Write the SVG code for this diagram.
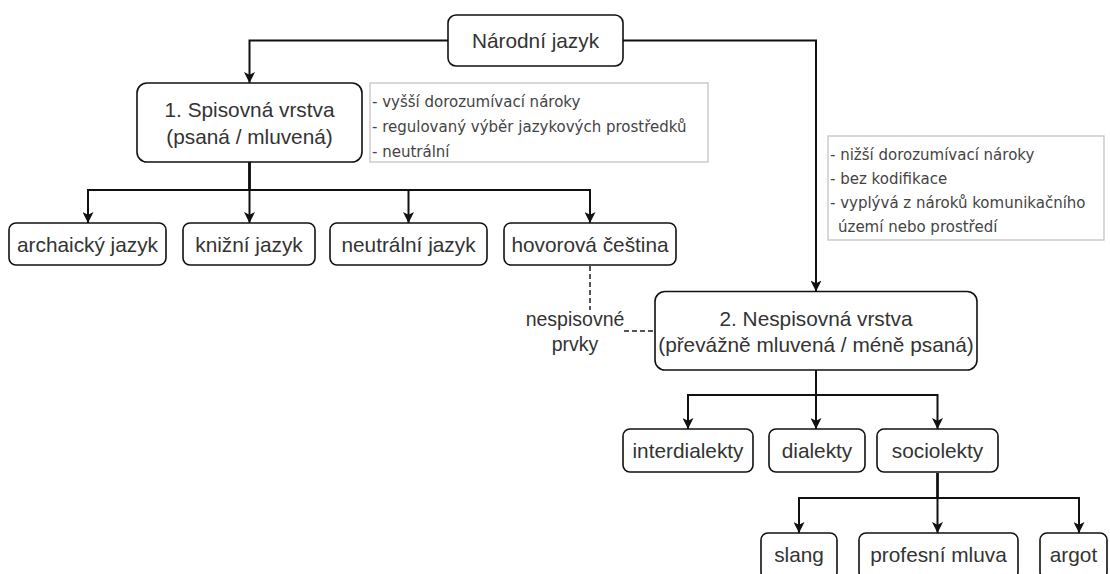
<svg xmlns="http://www.w3.org/2000/svg" width="1110" height="574" viewBox="0 0 1110 574">
<style>
  .box { fill: #ffffff; stroke: #111111; stroke-width: 1.6; }
  .note { fill: #ffffff; stroke: #c8c8c8; stroke-width: 1.4; }
  .t { font-family: "Liberation Sans", Arial, sans-serif; font-size: 20.8px; fill: #333333; text-anchor: middle; }
  .nt { font-family: "DejaVu Sans", Verdana, sans-serif; font-size: 15px; fill: #444444; }
  .lbl { font-family: "Liberation Sans", Arial, sans-serif; font-size: 19.5px; fill: #333333; text-anchor: middle; }
  .edge { fill: none; stroke: #111111; stroke-width: 2; marker-end: url(#arr); }
  .dash { fill: none; stroke: #555555; stroke-width: 2; stroke-dasharray: 5 3; }
</style>
<defs>
  <marker id="arr" viewBox="0 0 10 10" refX="10" refY="5" markerUnits="userSpaceOnUse" markerWidth="11" markerHeight="11" orient="auto">
    <path d="M0,0 L10,5 L0,10 L2.5,5 z" fill="#111111"/>
  </marker>
</defs>
<rect width="1110" height="574" fill="#ffffff"/>

<g id="connectors">
  <path class="edge" d="M448,40.5 H249.5 V83"/>
  <path class="edge" d="M623,40.5 H816 V291.5"/>
  <path class="edge" d="M249.5,162 V190 H88 V223"/>
  <path class="edge" d="M249.5,162 V223"/>
  <path class="edge" d="M249.5,162 V190 H408.5 V223"/>
  <path class="edge" d="M249.5,162 V190 H590 V223"/>
  <path class="edge" d="M816,370 V395 H688 V429"/>
  <path class="edge" d="M816,370 V429"/>
  <path class="edge" d="M816,370 V395 H937.5 V429"/>
  <path class="edge" d="M937.5,473 V498 H799 V533"/>
  <path class="edge" d="M937.5,473 V533"/>
  <path class="edge" d="M937.5,473 V498 H1079 V533"/>
  <path class="dash" d="M590,266 V310"/>
  <path class="dash" d="M624,331 H655"/>
  <text class="lbl" x="575" y="326">nespisovné</text>
  <text class="lbl" x="575" y="351">prvky</text>
</g>

<g id="n-narodni">
  <rect class="box" x="448" y="15" width="175" height="51" rx="8"/>
  <text class="t" x="535.5" y="48">Národní jazyk</text>
</g>

<g id="n-spisovna">
  <rect class="box" x="137" y="83" width="225" height="79" rx="10"/>
  <text class="t" x="249.5" y="117">1. Spisovná vrstva</text>
  <text class="t" x="249.5" y="144">(psaná / mluvená)</text>
</g>

<g id="note-spisovna">
  <rect class="note" x="370" y="83" width="338" height="79"/>
  <text class="nt" x="372" y="107">- vyšší dorozumívací nároky</text>
  <text class="nt" x="372" y="132">- regulovaný výběr jazykových prostředků</text>
  <text class="nt" x="372" y="157">- neutrální</text>
</g>

<g id="n-archaicky">
  <rect class="box" x="9" y="223" width="157" height="42" rx="7"/>
  <text class="t" x="87.5" y="251.5">archaický jazyk</text>
</g>
<g id="n-knizni">
  <rect class="box" x="183" y="223" width="132" height="42" rx="7"/>
  <text class="t" x="249" y="251.5">knižní jazyk</text>
</g>
<g id="n-neutralni">
  <rect class="box" x="330" y="223" width="157" height="42" rx="7"/>
  <text class="t" x="408.5" y="251.5">neutrální jazyk</text>
</g>
<g id="n-hovorova">
  <rect class="box" x="504" y="223" width="172" height="42" rx="7"/>
  <text class="t" x="590" y="251.5">hovorová čeština</text>
</g>

<g id="note-nespisovna">
  <rect class="note" x="828" y="136" width="276" height="104"/>
  <text class="nt" x="830" y="160">- nižší dorozumívací nároky</text>
  <text class="nt" x="830" y="184">- bez kodifikace</text>
  <text class="nt" x="830" y="208">- vyplývá z nároků komunikačního</text>
  <text class="nt" x="838" y="232">území nebo prostředí</text>
</g>

<g id="n-nespisovna">
  <rect class="box" x="655" y="291.5" width="322" height="78.5" rx="10"/>
  <text class="t" x="816" y="325.5">2. Nespisovná vrstva</text>
  <text class="t" x="816" y="352">(převážně mluvená / méně psaná)</text>
</g>

<g id="n-interdialekty">
  <rect class="box" x="623" y="429" width="130" height="43" rx="7"/>
  <text class="t" x="688" y="458">interdialekty</text>
</g>
<g id="n-dialekty">
  <rect class="box" x="769" y="429" width="96" height="43" rx="7"/>
  <text class="t" x="817" y="458">dialekty</text>
</g>
<g id="n-sociolekty">
  <rect class="box" x="877" y="429" width="121" height="43" rx="7"/>
  <text class="t" x="937.5" y="458">sociolekty</text>
</g>

<g id="n-slang">
  <rect class="box" x="761" y="533" width="76" height="46" rx="7"/>
  <text class="t" x="799" y="562">slang</text>
</g>
<g id="n-profesni">
  <rect class="box" x="859" y="533" width="159" height="46" rx="7"/>
  <text class="t" x="938.5" y="562">profesní mluva</text>
</g>
<g id="n-argot">
  <rect class="box" x="1040" y="533" width="67" height="46" rx="7"/>
  <text class="t" x="1073.5" y="562">argot</text>
</g>
</svg>
